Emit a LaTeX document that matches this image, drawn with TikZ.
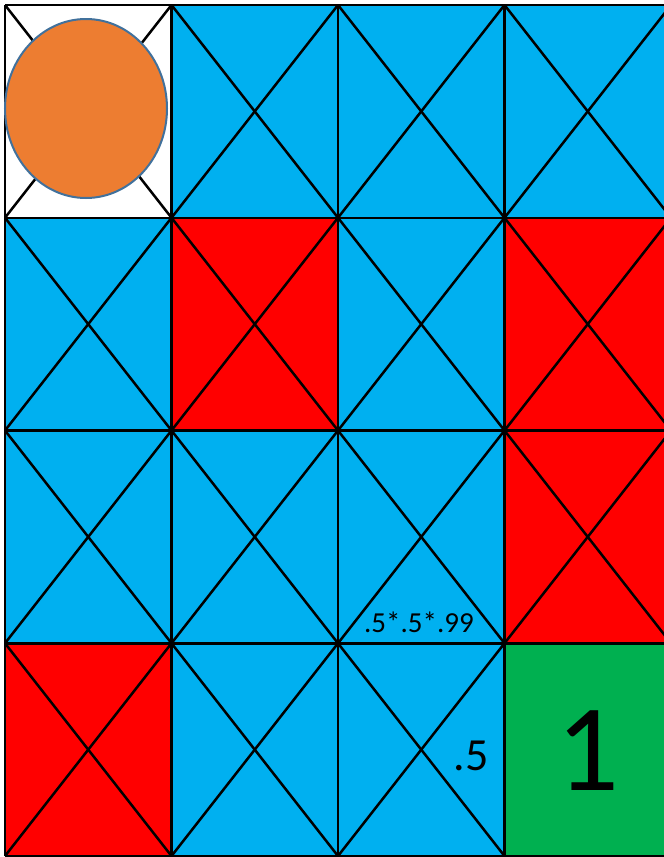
\documentclass[tikz,border=0pt]{standalone}
\usepackage{fontspec}
\setmainfont{Carlito}
\usetikzlibrary{shapes.geometric}
\definecolor{cblue}{HTML}{00B0F0}
\definecolor{cred}{HTML}{FF0000}
\definecolor{cgreen}{HTML}{00B050}
\definecolor{corange}{HTML}{ED7D31}
\definecolor{cedge}{HTML}{41719C}
\begin{document}
\begin{tikzpicture}[x=1pt,y=-1pt,
  gridline/.style={black,line width=2.5pt},
  lbl/.style={inner sep=0pt,anchor=center}]
\useasboundingbox (0,0) rectangle (664,857);
\clip (0,0) rectangle (664,857);
\def\cw{166.5}
\def\rh{212.75}
% cell fills: colour list by row
\foreach \r/\c/\col in {
  0/0/white,0/1/cblue,0/2/cblue,0/3/cblue,
  1/0/cblue,1/1/cred,1/2/cblue,1/3/cred,
  2/0/cblue,2/1/cblue,2/2/cblue,2/3/cred,
  3/0/cred,3/1/cblue,3/2/cblue,3/3/cgreen}{
  \fill[\col] ({5+\c*\cw},{5+\r*\rh}) rectangle ({5+(\c+1)*\cw},{5+(\r+1)*\rh});
}
% diagonals (all cells except green)
\foreach \r/\c in {0/0,0/1,0/2,0/3,1/0,1/1,1/2,1/3,2/0,2/1,2/2,2/3,3/0,3/1,3/2}{
  \draw[gridline] ({5+\c*\cw},{5+\r*\rh}) -- ({5+(\c+1)*\cw},{5+(\r+1)*\rh});
  \draw[gridline] ({5+(\c+1)*\cw},{5+\r*\rh}) -- ({5+\c*\cw},{5+(\r+1)*\rh});
}
% grid lines
\foreach \c in {0,1,2,3,4}{
  \draw[gridline] ({5+\c*\cw},5) -- ({5+\c*\cw},{5+4*\rh});
}
\foreach \r in {0,1,2,3,4}{
  \draw[gridline] (5,{5+\r*\rh}) -- ({5+4*\cw},{5+\r*\rh});
}
% circle
\node[ellipse,draw=cedge,fill=corange,line width=2pt,minimum width=162,minimum height=179,inner sep=0pt] (ball) at (86,108.5) {};
% labels
\node[lbl,font=\fontsize{29}{29}\selectfont] (prob) at (419,622) {.5*.5*.99};
\node[lbl,font=\fontsize{46}{46}\selectfont] (half) at (471,756) {.5};
\node[lbl,font=\fontsize{124}{124}\selectfont] (goal) at (588,751) {1};
\end{tikzpicture}
\end{document}
